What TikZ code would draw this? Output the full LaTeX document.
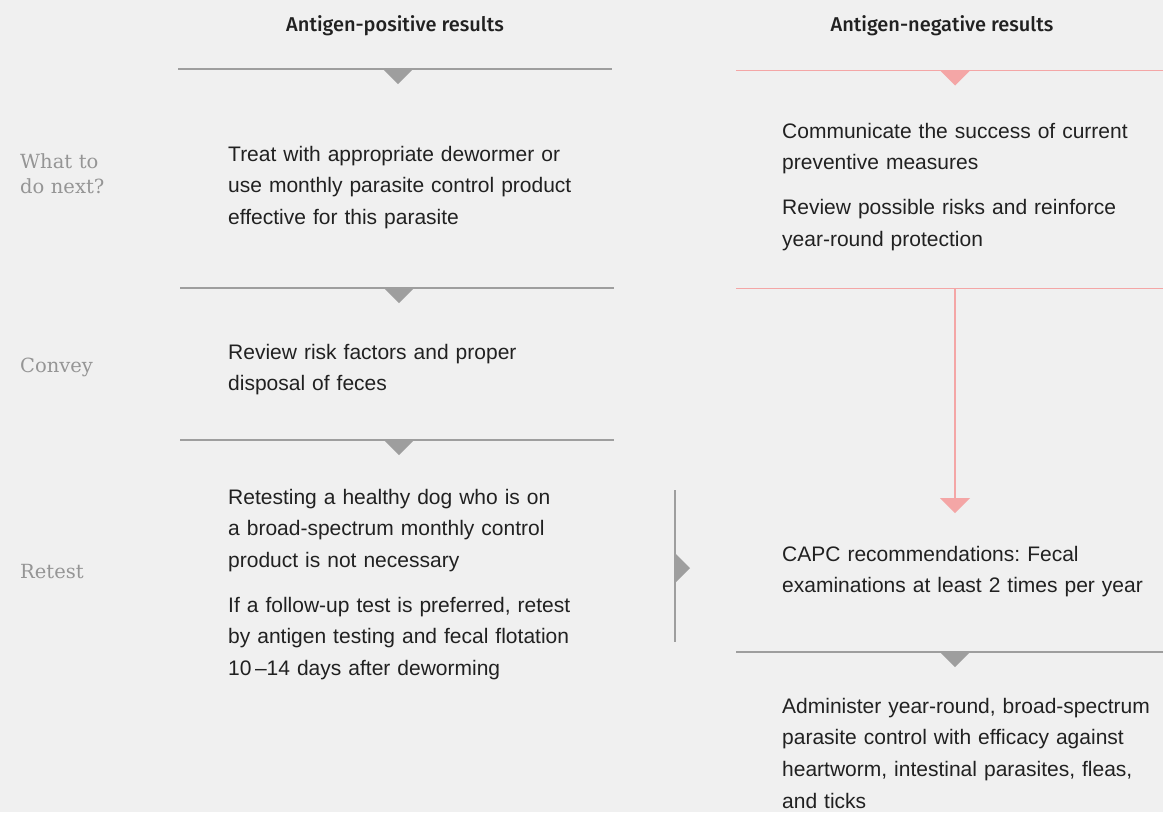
\documentclass[tikz,border=0pt]{standalone}
\usepackage{fontspec}
\setmainfont{Liberation Sans}
\newfontfamily\slabfont{DejaVu Serif}
\newfontfamily\headfont{Fira Sans}[UprightFont={* Medium}]

\definecolor{bgcol}{HTML}{F0F0F0}
\definecolor{txtcol}{HTML}{212121}
\definecolor{linecol}{HTML}{9E9E9E}
\definecolor{pinkcol}{HTML}{F4A6A6}
\definecolor{lblcol}{HTML}{959595}

% triangles on the dividers
\newcommand{\tridown}[2]{\fill[#2] (#1) ++(-15,0) -- ++(30,0) -- ++(-15,15) -- cycle;}
\newcommand{\triright}[2]{\fill[#2] (#1) ++(0,-15) -- ++(15,15) -- ++(-15,15) -- cycle;}

\tikzset{
    txt/.style={anchor=base west, inner sep=0pt, text width=400pt, align=left,
        text=txtcol, font=\frenchspacing\fontsize{21}{31.7}\selectfont},
    lbl/.style={anchor=base west, inner sep=0pt, text width=120pt, align=left,
        text=lblcol, font=\slabfont\fontsize{19.5}{25.5}\selectfont},
    head/.style={anchor=base, inner sep=0pt, text=txtcol,
        font=\headfont\fontsize{20}{24}\selectfont},
    divline/.style={draw=linecol, line width=1.5pt},
    pinkline/.style={draw=pinkcol, line width=1.5pt}
}

\begin{document}
\begin{tikzpicture}[x=1pt, y=-1pt]
    \fill[bgcol] (0,0) rectangle (1163,812);
    \useasboundingbox (0,0) rectangle (1163,812);

    % headers
    \node[head] (posHead) at (395,31) {Antigen-positive results};
    \node[head] (negHead) at (942,31) {Antigen-negative results};

    % row labels
    \node[lbl] (whatLbl)   at (20,168) {What to\\do next?};
    \node[lbl] (conveyLbl) at (20,372) {Convey};
    \node[lbl] (retestLbl) at (20,578) {Retest};

    % positive column
    \coordinate (p1a) at (178,69);  \coordinate (p1b) at (612,69);  \coordinate (p1m) at (398,69);
    \coordinate (p2a) at (180,288); \coordinate (p2b) at (614,288); \coordinate (p2m) at (399,288);
    \coordinate (p3a) at (180,440); \coordinate (p3b) at (614,440); \coordinate (p3m) at (399,440);

    \node[txt] (treatTxt) at (228,161)
        {Treat with appropriate dewormer or\\use monthly parasite control product\\effective for this parasite};
    \node[txt] (reviewTxt) at (228,359)
        {Review risk factors and proper\\disposal of feces};
    \node[txt] (retestTxt) at (228,504)
        {Retesting a healthy dog who is on\\a broad-spectrum monthly control\\product is not necessary\\[13pt]
         If a follow-up test is preferred, retest\\by antigen testing and fecal flotation\\10\,--14 days after deworming};

    % negative column
    \coordinate (n1a) at (736,70.5);  \coordinate (n1b) at (1163,70.5);  \coordinate (n1m) at (955,70.5);
    \coordinate (n2a) at (736,288.5); \coordinate (n2b) at (1163,288.5); \coordinate (n2m) at (955,288.5);
    \coordinate (n2e) at (955,498);
    \coordinate (n3a) at (736,652);   \coordinate (n3b) at (1163,652);   \coordinate (n3m) at (955,652);

    \node[txt] (commTxt) at (782,138)
        {Communicate the success of current\\preventive measures\\[13pt]
         Review possible risks and reinforce\\year-round protection};
    \node[txt] (capcTxt) at (782,561)
        {CAPC recommendations: Fecal\\examinations at least 2 times per year};
    \node[txt] (adminTxt) at (782,713)
        {Administer year-round, broad-spectrum\\parasite control with efficacy against\\heartworm, intestinal parasites, fleas,\\and ticks};

    % bracket between the columns
    \coordinate (va) at (675,490); \coordinate (vb) at (675,642); \coordinate (vm) at (675,568);

    % dividers
    \draw[divline] (p1a) -- (p1b);
    \draw[divline] (p2a) -- (p2b);
    \draw[divline] (p3a) -- (p3b);
    \draw[pinkline] (n1a) -- (n1b);
    \draw[pinkline] (n2a) -- (n2b);
    \draw[pinkline] (n2m) -- (n2e);
    \draw[divline] (n3a) -- (n3b);
    \draw[draw=linecol, line width=2pt] (va) -- (vb);

    \tridown{p1m}{linecol}
    \tridown{p2m}{linecol}
    \tridown{p3m}{linecol}
    \tridown{n1m}{pinkcol}
    \tridown{n2e}{pinkcol}
    \tridown{n3m}{linecol}
    \triright{vm}{linecol}

\end{tikzpicture}
\end{document}
